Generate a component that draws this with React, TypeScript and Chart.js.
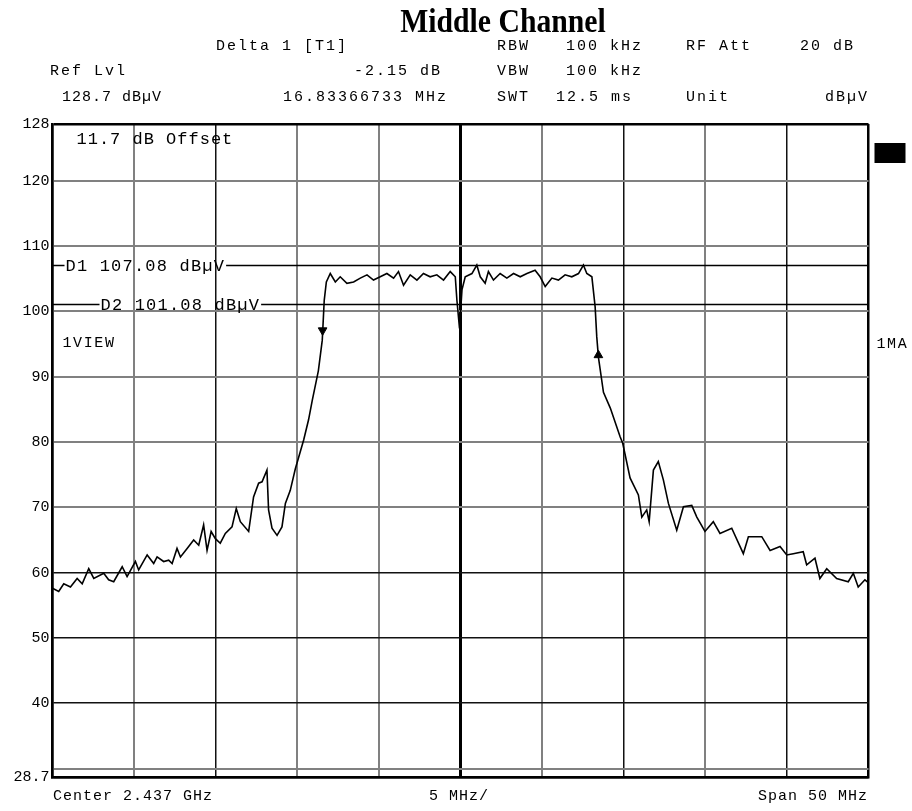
import React, { useEffect, useRef } from "react";
import { Chart, registerables } from "chart.js";

Chart.register(...registerables);

// Trace: frequency offset from centre (MHz) and level (dBµV)
const freqMHz = [
  -25.0, -24.62, -24.31, -23.9, -23.49, -23.18, -22.78, -22.47, -21.86, -21.56,
  -21.25, -20.73, -20.43, -19.92, -19.72, -19.2, -18.8, -18.59, -18.19, -17.88,
  -17.67, -17.37, -17.16, -16.75, -16.35, -16.04, -15.74, -15.53, -15.28, -15.02,
  -14.72, -14.41, -14.0, -13.74, -13.49, -12.98, -12.68, -12.37, -12.16, -11.86,
  -11.76, -11.55, -11.24, -10.94, -10.73, -10.43, -10.12, -9.61, -9.31, -9.08,
  -8.71, -8.47, -8.35, -8.22, -7.98, -7.67, -7.37, -6.96, -6.55, -6.14,
  -5.73, -5.33, -4.92, -4.51, -4.1, -3.8, -3.49, -3.08, -2.67, -2.27,
  -1.86, -1.45, -1.04, -0.63, -0.32, -0.22, -0.06, 0.09, 0.29, 0.7,
  1.0, 1.21, 1.51, 1.71, 2.02, 2.43, 2.84, 3.25, 3.66, 4.07,
  4.57, 4.88, 5.19, 5.6, 6.0, 6.41, 6.82, 7.23, 7.53, 7.74,
  8.05, 8.25, 8.35, 8.45, 8.76, 9.18, 9.78, 9.94, 10.39, 10.9,
  11.11, 11.41, 11.56, 11.82, 12.12, 12.43, 12.74, 13.25, 13.66, 14.17,
  14.48, 14.98, 15.49, 15.9, 16.62, 17.33, 17.64, 18.46, 18.97, 19.58,
  19.99, 20.39, 21.0, 21.21, 21.72, 22.02, 22.44, 23.05, 23.76, 24.07,
  24.37, 24.78, 24.97,
];
const levelDbuV = [
  57.6, 57.1, 58.3, 57.8, 59.1, 58.3, 60.6, 59.1, 59.9, 58.9,
  58.6, 60.9, 59.4, 61.7, 60.4, 62.7, 61.4, 62.4, 61.7, 61.9,
  61.4, 63.7, 62.4, 63.7, 65.0, 64.2, 67.3, 63.4, 66.3, 65.2,
  64.5, 66.0, 67.0, 69.8, 67.8, 66.3, 71.6, 73.7, 73.9, 75.7,
  69.6, 66.8, 65.7, 67.0, 70.6, 72.6, 75.9, 80.3, 83.4, 86.4,
  90.9, 95.6, 101.7, 104.5, 105.8, 104.5, 105.3, 104.3, 104.5, 105.1,
  105.6, 104.8, 105.3, 105.8, 105.1, 106.1, 104.0, 105.6, 104.8, 105.8,
  105.3, 105.6, 104.8, 106.1, 105.3, 101.7, 97.4, 103.3, 105.3, 105.8,
  107.1, 105.3, 104.3, 106.1, 104.8, 105.8, 105.1, 105.8, 105.3, 105.8,
  106.3, 105.3, 103.8, 105.1, 104.8, 105.6, 105.3, 105.8, 107.1, 105.8,
  105.3, 100.7, 96.1, 93.0, 87.6, 85.2, 80.8, 79.8, 74.5, 71.9,
  68.5, 69.6, 67.8, 75.7, 77.0, 74.2, 70.6, 66.5, 70.1, 70.3,
  68.5, 66.3, 67.8, 66.0, 66.8, 62.9, 65.5, 65.5, 63.4, 64.0,
  62.7, 62.9, 63.2, 61.2, 62.2, 59.1, 60.6, 59.1, 58.6, 59.9,
  57.8, 58.9, 58.5,
];

// Delta markers on the trace
const markerFreqMHz = [-8.45, 8.45];
const markerLevelDbuV = [97.1, 93.3];
const markerRotation = [180, 0];

// Display lines
const deltaLineLevels = [107.08, 101.08];
const deltaLineLabels = ["D1 107.08 dB\u00b5V", "D2 101.08 dB\u00b5V"];

// Axes
const yTickValues = [28.7, 30, 40, 50, 60, 70, 80, 90, 100, 110, 120, 128.7];
const yTickLabels = ["28.7", "", "40", "50", "60", "70", "80", "90", "100", "110", "120", "128"];
const xTickValues = [-25, -20, -15, -10, -5, 0, 5, 10, 15, 20, 25];

const MONO = '"Liberation Mono", "DejaVu Sans Mono", monospace';

type TextItem = { t: string; x: number; y: number; right?: boolean; ls?: number };
const headerTexts: TextItem[] = [
  { t: "Delta 1 [T1]", x: 216, y: 47 },
  { t: "RBW", x: 497, y: 47 },
  { t: "100 kHz", x: 566, y: 47 },
  { t: "RF Att", x: 686, y: 47 },
  { t: "20 dB", x: 800, y: 47 },
  { t: "Ref Lvl", x: 50, y: 72 },
  { t: "-2.15 dB", x: 440, y: 72, right: true },
  { t: "VBW", x: 497, y: 72 },
  { t: "100 kHz", x: 566, y: 72 },
  { t: "128.7 dB\u00b5V", x: 62, y: 98, ls: 1 },
  { t: "16.83366733 MHz", x: 446, y: 98, right: true },
  { t: "SWT", x: 497, y: 98 },
  { t: "12.5 ms", x: 556, y: 98 },
  { t: "Unit", x: 686, y: 98 },
  { t: "dB\u00b5V", x: 867, y: 98, right: true },
  { t: "Center 2.437 GHz", x: 53, y: 797, ls: 1 },
  { t: "5 MHz/", x: 429, y: 797, ls: 1 },
  { t: "Span 50 MHz", x: 867, y: 797, right: true, ls: 1 },
];

const annotationPlugin = {
  id: "analyzerAnnotations",
  beforeDatasetsDraw(chart: any) {
    const { ctx, chartArea } = chart;
    const ys = chart.scales.y;
    ctx.save();
    ctx.font = `17px ${MONO}`;
    (ctx as any).letterSpacing = "1.2px";
    const starts = [13, 48];
    deltaLineLevels.forEach((lvl, i) => {
      const y = Math.round(ys.getPixelForValue(lvl)) + 0.5;
      const tx = chartArea.left + starts[i];
      const w = ctx.measureText(deltaLineLabels[i]).width;
      ctx.strokeStyle = "#000";
      ctx.lineWidth = 1.3;
      ctx.beginPath();
      ctx.moveTo(chartArea.left, y);
      ctx.lineTo(tx - 1, y);
      ctx.moveTo(tx + w + 1, y);
      ctx.lineTo(chartArea.right, y);
      ctx.stroke();
      ctx.fillStyle = "#000";
      ctx.textBaseline = "middle";
      ctx.textAlign = "left";
      ctx.fillText(deltaLineLabels[i], tx, y + 1);
    });
    ctx.restore();
  },
  afterDraw(chart: any) {
    const { ctx, chartArea } = chart;
    ctx.save();
    ctx.fillStyle = "#000";
    ctx.textBaseline = "middle";
    ctx.textAlign = "left";
    ctx.font = `17px ${MONO}`;
    (ctx as any).letterSpacing = "1px";
    ctx.fillText("11.7 dB Offset", chartArea.left + 24, chartArea.top + 15);
    ctx.font = `15px ${MONO}`;
    (ctx as any).letterSpacing = "1.6px";
    ctx.fillText("1VIEW", chartArea.left + 10, 343);
    ctx.fillText("1MA", chartArea.right + 8, 344);
    ctx.fillRect(chartArea.right + 6, 143, 31, 20);
    ctx.restore();
  },
};

export default function App() {
  const canvasRef = useRef<HTMLCanvasElement | null>(null);

  useEffect(() => {
    if (!canvasRef.current) return;
    const trace = freqMHz.map((f, i) => ({ x: f, y: levelDbuV[i] }));
    const markers = markerFreqMHz.map((f, i) => ({ x: f, y: markerLevelDbuV[i] }));
    const blackX = [-15, 10, 20];
    const chart = new Chart(canvasRef.current, {
      type: "scatter",
      data: {
        datasets: [
          {
            data: trace,
            showLine: true,
            borderColor: "#000",
            borderWidth: 1.6,
            pointRadius: 0,
            tension: 0,
          },
          {
            data: markers,
            showLine: false,
            pointStyle: "triangle",
            rotation: markerRotation,
            pointRadius: 5,
            backgroundColor: "#000",
            borderColor: "#000",
            borderWidth: 1,
          } as any,
        ],
      },
      options: {
        responsive: false,
        maintainAspectRatio: false,
        animation: false,
        events: [],
        layout: { padding: { left: 0, top: 124, right: 43.5, bottom: 34 } },
        plugins: { legend: { display: false }, tooltip: { enabled: false } },
        scales: {
          x: {
            type: "linear",
            min: -25,
            max: 25,
            afterBuildTicks: (s: any) => {
              s.ticks = xTickValues.map((v) => ({ value: v }));
            },
            afterFit: (s: any) => {
              s.height = 0;
            },
            ticks: { display: false },
            grid: {
              drawTicks: false,
              color: (c: any) => {
                const v = c.tick?.value;
                if (v === 0 || v === 25 || v === -25) return "#000";
                return blackX.includes(v) ? "#111" : "#808080";
              },
              lineWidth: (c: any) => {
                const v = c.tick?.value;
                if (v === 0) return 3;
                if (v === 25 || v === -25) return 2.5;
                return blackX.includes(v) ? 1.5 : 2;
              },
            },
            border: { display: true, color: "#000", width: 2.5 },
          },
          y: {
            type: "linear",
            min: 28.7,
            max: 128.7,
            afterBuildTicks: (s: any) => {
              s.ticks = yTickValues.map((v) => ({ value: v }));
            },
            afterFit: (s: any) => {
              s.width = 52.5;
            },
            ticks: {
              autoSkip: false,
              padding: 3,
              color: "#000",
              font: { family: MONO, size: 15 },
              callback: (_v: any, i: number) => yTickLabels[i],
            },
            grid: {
              drawTicks: false,
              color: (c: any) => {
                const v = c.tick?.value;
                if (v === 128.7 || v === 28.7) return "#000";
                return v === 40 || v === 50 || v === 60 ? "#111" : "#808080";
              },
              lineWidth: (c: any) => {
                const v = c.tick?.value;
                if (v === 128.7 || v === 28.7) return 2.5;
                return v === 40 || v === 50 || v === 60 ? 1.5 : 2;
              },
            },
            border: { display: true, color: "#000", width: 2.5 },
          },
        },
      },
      plugins: [annotationPlugin],
    });
    return () => chart.destroy();
  }, []);

  return (
    <div
      style={{
        position: "fixed",
        left: 0,
        top: 0,
        width: 912,
        height: 811,
        background: "#fff",
        overflow: "hidden",
      }}
    >
      <canvas
        ref={canvasRef}
        width={912}
        height={811}
        style={{ position: "absolute", left: 0, top: 0, width: 912, height: 811 }}
      />
      <div
        style={{
          position: "absolute",
          left: 503,
          top: 5,
          transform: "translateX(-50%) scaleX(0.9)",
          fontFamily: '"Liberation Serif", "Times New Roman", serif',
          fontWeight: "bold",
          fontSize: 33,
          lineHeight: "33px",
          whiteSpace: "nowrap",
          color: "#000",
        }}
      >
        Middle Channel
      </div>
      {headerTexts.map((h, i) => {
        const ls = h.ls ?? 2;
        return (
          <div
            key={i}
            style={{
              position: "absolute",
              top: h.y - 9,
              ...(h.right ? { right: 912 - h.x - ls } : { left: h.x }),
              fontFamily: MONO,
              fontSize: 15,
              lineHeight: "18px",
              letterSpacing: `${ls}px`,
              whiteSpace: "pre",
              color: "#000",
            }}
          >
            {h.t}
          </div>
        );
      })}
    </div>
  );
}
